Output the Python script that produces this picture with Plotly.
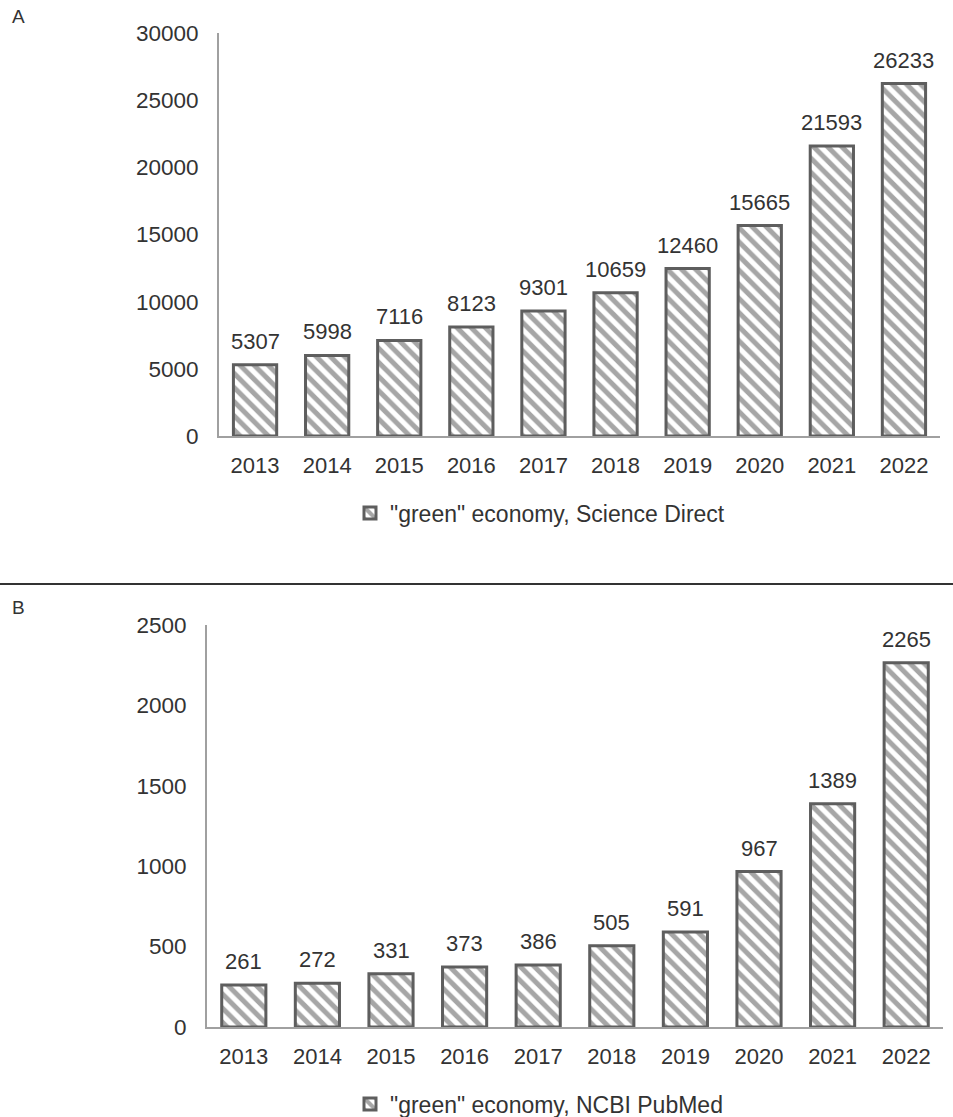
import plotly.graph_objects as go

years = ["2013", "2014", "2015", "2016", "2017", "2018", "2019", "2020", "2021", "2022"]
science_direct = [5307, 5998, 7116, 8123, 9301, 10659, 12460, 15665, 21593, 26233]
pubmed = [261, 272, 331, 373, 386, 505, 591, 967, 1389, 2265]
name_a = '"green" economy, Science Direct'
name_b = '"green" economy, NCBI PubMed'

W, H = 953, 1117
FONT = "Liberation Sans, Arial, sans-serif"
TXT = "#333333"
AX = "#a0a0a0"

def px_y(p):
    return 1 - p / H

def bar(x, y, name, xa, ya, legend):
    return go.Bar(
        x=x, y=y, name=name, xaxis=xa, yaxis=ya, legend=legend,
        width=0.6,
        marker=dict(
            color="white",
            line=dict(color="#5e5e5e", width=3),
            pattern=dict(shape="\\", fgcolor="#4d4d4d", bgcolor="white",
                         size=10, solidity=0.5, fillmode="overlay"),
        ),
        hoverinfo="x+y",
        showlegend=True,
    )

fig = go.Figure()
fig.add_trace(bar(years, science_direct, name_a, "x", "y", "legend"))
fig.add_trace(bar(years, pubmed, name_b, "x2", "y2", "legend2"))

# value labels above bars (x given as category index on the category axis)
for xa, ya, vals in (("x", "y", science_direct), ("x2", "y2", pubmed)):
    for i, v in enumerate(vals):
        fig.add_annotation(x=i, y=v, xref=xa, yref=ya, text=str(v),
                           showarrow=False, yanchor="bottom", yshift=9,
                           font=dict(size=22, color=TXT, family=FONT))

axis_x = dict(showline=True, linecolor=AX, linewidth=2, ticks="", showgrid=False,
              tickfont=dict(size=22, color=TXT, family=FONT), type="category",
              categoryorder="array", categoryarray=years,
              range=[-0.5, len(years) - 0.5], ticklabelstandoff=9)
axis_y = dict(showline=True, linecolor=AX, linewidth=2, ticks="", showgrid=False,
              zeroline=False, tickfont=dict(size=22.5, color=TXT, family=FONT),
              tickformat="d", ticklabelstandoff=14)

fig.update_layout(
    width=W, height=H,
    margin=dict(l=0, r=0, t=0, b=0, autoexpand=False),
    paper_bgcolor="white", plot_bgcolor="white",
    font=dict(family=FONT, color=TXT),
    bargap=0.4,
    xaxis=dict(axis_x, domain=[219 / W, 940 / W], anchor="y"),
    yaxis=dict(axis_y, domain=[px_y(436), px_y(33)], range=[0, 30000],
               tickvals=[0, 5000, 10000, 15000, 20000, 25000, 30000], anchor="x"),
    xaxis2=dict(axis_x, domain=[207 / W, 943 / W], anchor="y2"),
    yaxis2=dict(axis_y, domain=[px_y(1027), px_y(625)], range=[0, 2500],
                tickvals=[0, 500, 1000, 1500, 2000, 2500], anchor="x2"),
    legend=dict(x=350 / W, y=px_y(513), xanchor="left", yanchor="middle",
                orientation="h", font=dict(size=23, color=TXT, family=FONT),
                bgcolor="rgba(0,0,0,0)", itemwidth=30),
    legend2=dict(x=350 / W, y=px_y(1104), xanchor="left", yanchor="middle",
                 orientation="h", font=dict(size=23, color=TXT, family=FONT),
                 bgcolor="rgba(0,0,0,0)", itemwidth=30),
    shapes=[dict(type="line", xref="paper", yref="paper", x0=0, x1=1,
                 y0=px_y(584), y1=px_y(584), line=dict(color="#333333", width=2))],
)
fig.add_annotation(text="A", x=10 / W, y=px_y(17), xref="paper", yref="paper",
                   showarrow=False, xanchor="left", yanchor="middle",
                   font=dict(size=19, color=TXT, family=FONT))
fig.add_annotation(text="B", x=10 / W, y=px_y(608), xref="paper", yref="paper",
                   showarrow=False, xanchor="left", yanchor="middle",
                   font=dict(size=19, color=TXT, family=FONT))

fig.write_html("out.html", config={"displayModeBar": False},
               post_script="document.body.style.margin='0';")
